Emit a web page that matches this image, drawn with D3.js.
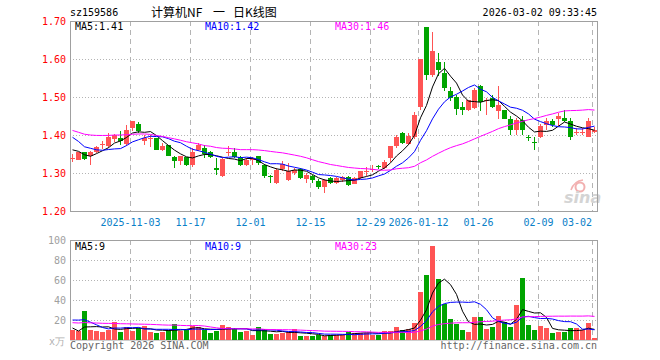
<!DOCTYPE html>
<html>
<head>
<meta charset="utf-8">
<script src="https://cdn.jsdelivr.net/npm/d3@7"></script>
<style>
  body { margin: 0; background: #fff; }
  svg { display: block; }
  text { font-family: "DejaVu Sans Mono", monospace; font-size: 10px; }
</style>
</head>
<body>
<div id="chart"></div>
<script>
// trading days shown
const dates = [
  "2025-10-20","2025-10-21","2025-10-22","2025-10-23","2025-10-24","2025-10-27","2025-10-28","2025-10-29","2025-10-30","2025-10-31",
  "2025-11-03","2025-11-04","2025-11-05","2025-11-06","2025-11-07","2025-11-10","2025-11-11","2025-11-12","2025-11-13","2025-11-14",
  "2025-11-17","2025-11-18","2025-11-19","2025-11-20","2025-11-21","2025-11-24","2025-11-25","2025-11-26","2025-11-27","2025-11-28",
  "2025-12-01","2025-12-02","2025-12-03","2025-12-04","2025-12-05","2025-12-08","2025-12-09","2025-12-10","2025-12-11","2025-12-12",
  "2025-12-15","2025-12-16","2025-12-17","2025-12-18","2025-12-19","2025-12-22","2025-12-23","2025-12-24","2025-12-25","2025-12-26",
  "2025-12-29","2025-12-30","2025-12-31","2026-01-05","2026-01-06","2026-01-07","2026-01-08","2026-01-09","2026-01-12","2026-01-13",
  "2026-01-14","2026-01-15","2026-01-16","2026-01-19","2026-01-20","2026-01-21","2026-01-22","2026-01-23","2026-01-26","2026-01-27",
  "2026-01-28","2026-01-29","2026-01-30","2026-02-02","2026-02-03","2026-02-04","2026-02-05","2026-02-06","2026-02-09","2026-02-10",
  "2026-02-11","2026-02-12","2026-02-13","2026-02-24","2026-02-25","2026-02-26","2026-02-27","2026-03-02"
];

const opens = [
  1.338,1.335,1.354,1.344,1.355,1.375,1.370,1.390,1.392,1.376,
  1.418,1.430,1.383,1.392,1.392,1.361,1.373,1.341,1.331,1.341,
  1.322,1.360,1.365,1.354,1.314,1.292,1.353,1.354,1.343,1.322,
  1.333,1.344,1.322,1.292,1.274,1.311,1.282,1.300,1.310,1.284,
  1.293,1.280,1.264,1.287,1.275,1.282,1.290,1.272,1.287,1.303,
  1.309,1.318,1.313,1.340,1.370,1.405,1.377,1.396,1.474,1.684,
  1.557,1.592,1.563,1.517,1.500,1.473,1.466,1.471,1.530,1.490,
  1.497,1.463,1.465,1.442,1.412,1.440,1.396,1.382,1.396,1.427,
  1.436,1.442,1.445,1.436,1.406,1.406,1.396,1.408
];
const highs = [
  1.350,1.356,1.356,1.359,1.371,1.384,1.405,1.403,1.410,1.427,
  1.438,1.434,1.401,1.400,1.393,1.378,1.374,1.346,1.346,1.342,
  1.366,1.378,1.374,1.358,1.339,1.340,1.371,1.366,1.345,1.340,
  1.342,1.346,1.323,1.296,1.313,1.331,1.327,1.312,1.312,1.299,
  1.295,1.283,1.283,1.290,1.290,1.292,1.293,1.290,1.306,1.317,
  1.320,1.322,1.333,1.372,1.400,1.407,1.405,1.460,1.600,1.684,
  1.670,1.616,1.592,1.527,1.506,1.488,1.493,1.524,1.532,1.497,
  1.506,1.528,1.467,1.449,1.445,1.449,1.401,1.396,1.428,1.445,
  1.441,1.458,1.465,1.445,1.419,1.418,1.445,1.422
];
const lows = [
  1.329,1.333,1.335,1.320,1.353,1.363,1.366,1.382,1.374,1.372,
  1.411,1.405,1.373,1.369,1.360,1.359,1.344,1.313,1.320,1.318,
  1.317,1.358,1.339,1.339,1.296,1.290,1.345,1.340,1.318,1.318,
  1.322,1.320,1.286,1.274,1.272,1.304,1.278,1.296,1.285,1.273,
  1.275,1.258,1.247,1.272,1.271,1.276,1.266,1.270,1.285,1.291,
  1.302,1.311,1.311,1.328,1.366,1.376,1.374,1.389,1.467,1.544,
  1.553,1.554,1.517,1.490,1.453,1.453,1.462,1.468,1.464,1.453,
  1.472,1.442,1.443,1.401,1.401,1.401,1.383,1.361,1.392,1.414,
  1.420,1.423,1.434,1.386,1.400,1.401,1.394,1.405
];
const closes = [
  1.339,1.354,1.338,1.355,1.369,1.377,1.394,1.399,1.383,1.414,
  1.436,1.410,1.392,1.393,1.361,1.370,1.346,1.331,1.344,1.322,
  1.355,1.373,1.350,1.342,1.307,1.336,1.356,1.342,1.321,1.335,
  1.338,1.326,1.291,1.291,1.309,1.325,1.306,1.309,1.288,1.295,
  1.282,1.263,1.281,1.275,1.286,1.289,1.269,1.287,1.304,1.305,
  1.311,1.317,1.330,1.370,1.396,1.379,1.398,1.453,1.600,1.559,
  1.622,1.572,1.524,1.497,1.468,1.465,1.491,1.519,1.488,1.491,
  1.475,1.480,1.443,1.412,1.440,1.412,1.395,1.381,1.423,1.436,
  1.427,1.449,1.436,1.396,1.407,1.407,1.438,1.414
];
// volume, x万
const volumes = [
  10,9,29,10,9,8,10,18,8,13,
  9,12,14,8,7,8,10,16,9,10,
  14,13,10,7,9,15,13,12,8,9,
  5,13,11,6,6,7,8,11,4,4,
  4,5,4,5.5,5.5,5.5,8,7.5,7.5,7.5,
  5.5,5.5,9,9,13,10,11,17,48,65,
  94,61,36,21,16,10,8,23,23,11,
  13,24,18,13,35,62,15,10,14,12,
  7,8,8,12,12,10,17,2
];
// sessions before 2025-10-20 (not drawn), only feed the moving averages
const prevCloses = [1.50,1.49,1.42,1.40,1.38,1.39,1.37,1.38,1.39,1.40,1.39,1.39,
  1.43,1.44,1.45,1.44,1.43,1.45,1.44,1.44,1.464,1.478,1.395,1.409,1.389,1.374,1.383,1.375,1.334];
const prevVolumes = [18,15,20,14,16,13,17,19,15,14,16,18,12,15,17,16,14,19,16,15,
  10,25,35,35,35,24,9,9,8];

const tickDates = ["2025-11-03","2025-11-17","2025-12-01","2025-12-15","2025-12-29","2026-01-12","2026-01-26","2026-02-09","2026-03-02"];
const tickLabels = ["2025-11-03","11-17","12-01","12-15","12-29","2026-01-12","01-26","02-09","03-02"];
const priceTicks = [1.2, 1.3, 1.4, 1.5, 1.6, 1.7];
const volTicks = [20, 40, 60, 80, 100];
const maPeriods = [5, 10, 30];
const maColors = ["#000000", "#0000ff", "#ff00ff"];
const priceLegend = ["MA5:1.41", "MA10:1.42", "MA30:1.46"];
const volLegend = ["MA5:9", "MA10:9", "MA30:23"];

const W = 660, H = 360;
const left = 70, right = 598;
const red = "#ff5454", green = "#00a400", gridC = "#b4b4b4", frameC = "#a0a0a0";

const svg = d3.select("#chart").append("svg").attr("width", W).attr("height", H);

const x = d3.scaleBand().domain(dates).range([left, right]).padding(0);
const y = d3.scaleLinear().domain([1.2, 1.7]).range([211, 21]);
const yv = d3.scaleLinear().domain([0, 100]).range([340, 240]);

const cx = d => x(d) + 2.5;
const up = i => closes[i] >= opens[i];

function movingAvg(prev, vals, n) {
  const all = prev.concat(vals), off = prev.length;
  return vals.map((_, i) => d3.mean(all.slice(off + i - n + 1, off + i + 1)));
}

// grids
function grid(yScale, vals, top, bottom) {
  svg.append("g").selectAll("line").data(vals).enter().append("line")
    .attr("x1", left).attr("x2", right)
    .attr("y1", d => Math.round(yScale(d)) + 0.5).attr("y2", d => Math.round(yScale(d)) + 0.5)
    .attr("stroke", gridC).attr("stroke-dasharray", "1,2");
  svg.append("g").selectAll("line").data(tickDates).enter().append("line")
    .attr("x1", d => x(d) + 0.5).attr("x2", d => x(d) + 0.5)
    .attr("y1", top).attr("y2", bottom)
    .attr("stroke", gridC).attr("stroke-dasharray", "5,4");
}
grid(y, [1.3, 1.4, 1.5, 1.6], 21, 211);
grid(yv, [20, 40, 60, 80], 240, 340);

// sina watermark
const wm = svg.append("g");
wm.append("circle").attr("cx", 580).attr("cy", 187).attr("r", 4.5)
  .attr("fill", "none").attr("stroke", "#f2b0b0").attr("stroke-width", 2);
wm.append("path").attr("d", "M571,190 Q574,181 583,180").attr("fill", "none").attr("stroke", "#f2b0b0").attr("stroke-width", 1.5);
wm.append("text").attr("x", 564).attr("y", 203)
  .style("font-family", "DejaVu Sans").style("font-size", "16px").style("font-style", "italic").style("font-weight", "bold")
  .attr("fill", "#d4d4d4").text("sina");

// frames
svg.append("rect").attr("x", left + 0.5).attr("y", 21.5).attr("width", right - left - 1).attr("height", 190)
  .attr("fill", "none").attr("stroke", frameC);
svg.append("rect").attr("x", left + 0.5).attr("y", 240.5).attr("width", right - left - 1).attr("height", 99.5)
  .attr("fill", "none").attr("stroke", frameC);

// candles
const candles = svg.append("g").attr("shape-rendering", "crispEdges");
candles.selectAll("line").data(dates).enter().append("line")
  .attr("x1", cx).attr("x2", cx)
  .attr("y1", (d, i) => y(highs[i])).attr("y2", (d, i) => y(lows[i]))
  .attr("stroke", (d, i) => up(i) ? red : green);
candles.selectAll("rect").data(dates).enter().append("rect")
  .attr("x", d => x(d)).attr("width", 5)
  .attr("y", (d, i) => y(Math.max(opens[i], closes[i])))
  .attr("height", (d, i) => Math.max(1, Math.abs(y(opens[i]) - y(closes[i]))))
  .attr("fill", (d, i) => up(i) ? red : green);

// volume bars
svg.append("g").attr("shape-rendering", "crispEdges")
  .selectAll("rect").data(dates).enter().append("rect")
  .attr("x", d => x(d)).attr("width", 5)
  .attr("y", (d, i) => yv(volumes[i]))
  .attr("height", (d, i) => yv(0) - yv(volumes[i]))
  .attr("fill", (d, i) => up(i) ? red : green);

// moving averages
maPeriods.forEach((n, k) => {
  const pm = movingAvg(prevCloses, closes, n);
  const vm = movingAvg(prevVolumes, volumes, n);
  svg.append("path").datum(pm)
    .attr("d", d3.line().x((v, i) => cx(dates[i])).y(v => y(v)))
    .attr("fill", "none").attr("stroke", maColors[k]).attr("stroke-width", 1);
  svg.append("path").datum(vm)
    .attr("d", d3.line().x((v, i) => cx(dates[i])).y(v => yv(v)))
    .attr("fill", "none").attr("stroke", maColors[k]).attr("stroke-width", 1);
});

// y labels
svg.append("g").selectAll("text").data(priceTicks).enter().append("text")
  .attr("x", 66).attr("y", d => y(d) + 4).attr("text-anchor", "end")
  .attr("fill", "#ff0000").text(d => d.toFixed(2));
svg.append("g").selectAll("text").data(volTicks).enter().append("text")
  .attr("x", 66).attr("y", d => yv(d) + 4).attr("text-anchor", "end")
  .attr("fill", "#a0a0a0").text(d => d);
svg.append("text").attr("x", 49).attr("y", 345).attr("fill", "#b0b0b0").text("x万");

// x labels
svg.append("g").selectAll("text").data(tickDates).enter().append("text")
  .attr("x", (d, i) => i === tickDates.length - 1 ? x(d) : x(d) + 0.5)
  .attr("y", 226)
  .attr("text-anchor", (d, i) => i === tickDates.length - 1 ? "end" : "middle")
  .attr("fill", "#0a80c8").text((d, i) => tickLabels[i]);

// header
svg.append("text").attr("x", 70).attr("y", 16).attr("fill", "#000").text("sz159586");
const title = svg.append("text").attr("y", 17).attr("fill", "#000")
  .style("font-family", "'Noto Sans CJK SC'").style("font-size", "12px");
title.append("tspan").attr("x", 151).text("计算机NF");
title.append("tspan").attr("x", 213).text("一");
title.append("tspan").attr("x", 233).text("日K线图");
svg.append("text").attr("x", 597).attr("y", 16).attr("text-anchor", "end").attr("fill", "#000").text("2026-03-02 09:33:45");

// legends
const legX = [75, 205, 335];
priceLegend.forEach((t, k) => svg.append("text").attr("x", legX[k]).attr("y", 30).attr("fill", maColors[k]).text(t));
volLegend.forEach((t, k) => svg.append("text").attr("x", legX[k]).attr("y", 250).attr("fill", maColors[k]).text(t));

// footer
svg.append("text").attr("x", 70).attr("y", 349).attr("fill", "#666").text("Copyright 2026 SINA.COM");
svg.append("text").attr("x", 597).attr("y", 349).attr("text-anchor", "end").attr("fill", "#666").text("http://finance.sina.com.cn");
</script>
</body>
</html>
